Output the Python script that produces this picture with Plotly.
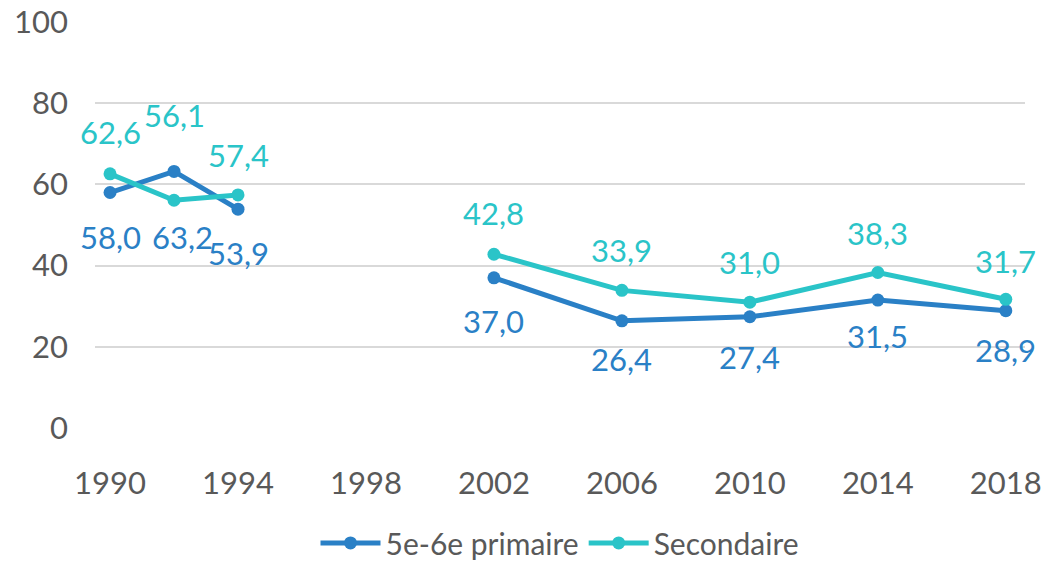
import plotly.graph_objects as go

# ---- data ----
years = [1990, 1992, 1994, 1998, 2002, 2006, 2010, 2014, 2018]
primaire = [58.0, 63.2, 53.9, None, 37.0, 26.4, 27.4, 31.5, 28.9]
secondaire = [62.6, 56.1, 57.4, None, 42.8, 33.9, 31.0, 38.3, 31.7]
x_ticks = [1990, 1994, 1998, 2002, 2006, 2010, 2014, 2018]
y_ticks = [0, 20, 40, 60, 80, 100]
series_names = ["5e-6e primaire", "Secondaire"]

# ---- style ----
c_prim = "#2A80C6"
c_sec = "#2AC4C8"
font_family = "Lato, 'Open Sans', sans-serif"
grey = "#595959"
fs = 31
prim_shift = [-44, -66, -44, 0, -43, -38, -40, -36, -39]
prim_xshift = [0, 8, 0, 0, 0, 0, 0, 0, 0]
sec_shift = [42, 85, 40, 0, 41, 40, 40, 40, 38]


def fmt(v):
    return f"{v:.1f}".replace(".", ",")


fig = go.Figure()
fig.add_trace(go.Scatter(x=years, y=primaire, name=series_names[0], mode="lines+markers",
                         line=dict(color=c_prim, width=5), marker=dict(size=13, color=c_prim),
                         connectgaps=False))
fig.add_trace(go.Scatter(x=years, y=secondaire, name=series_names[1], mode="lines+markers",
                         line=dict(color=c_sec, width=5), marker=dict(size=13, color=c_sec),
                         connectgaps=False))

annotations = []
for i, (yr, v) in enumerate(zip(years, primaire)):
    if v is None:
        continue
    annotations.append(dict(x=yr, y=v, text=fmt(v), showarrow=False, yshift=prim_shift[i],
                            xshift=prim_xshift[i], font=dict(color=c_prim, size=fs, family=font_family)))
for i, (yr, v) in enumerate(zip(years, secondaire)):
    if v is None:
        continue
    annotations.append(dict(x=yr, y=v, text=fmt(v), showarrow=False, yshift=sec_shift[i],
                            font=dict(color=c_sec, size=fs, family=font_family)))

fig.update_layout(
    width=1050, height=561,
    margin=dict(l=95, r=25, t=22, b=133, autoexpand=False),
    paper_bgcolor="white", plot_bgcolor="white",
    font=dict(family=font_family, color=grey, size=fs),
    showlegend=True,
    legend=dict(orientation="h", x=0.5, xanchor="center", y=-0.283, yanchor="middle",
                font=dict(size=30, color=grey), itemwidth=60, tracegroupgap=0),
    annotations=annotations,
    xaxis=dict(range=[1989.53, 2018.6], tickvals=x_ticks, ticktext=[str(t) for t in x_ticks],
               showgrid=False, zeroline=False, showline=False, ticks="", automargin=False,
               ticklabelstandoff=34, tickfont=dict(size=fs, color=grey)),
    yaxis=dict(range=[0, 100], tickvals=y_ticks, showgrid=True, gridcolor="#D9D9D9", gridwidth=1.5,
               zeroline=False, showline=False, ticks="", automargin=False, ticklabelstandoff=26,
               tickfont=dict(size=fs, color=grey)),
)

fig.write_html("out.html", config={"displayModeBar": False},
               post_script="document.body.style.margin='0';document.body.style.overflow='hidden';")
